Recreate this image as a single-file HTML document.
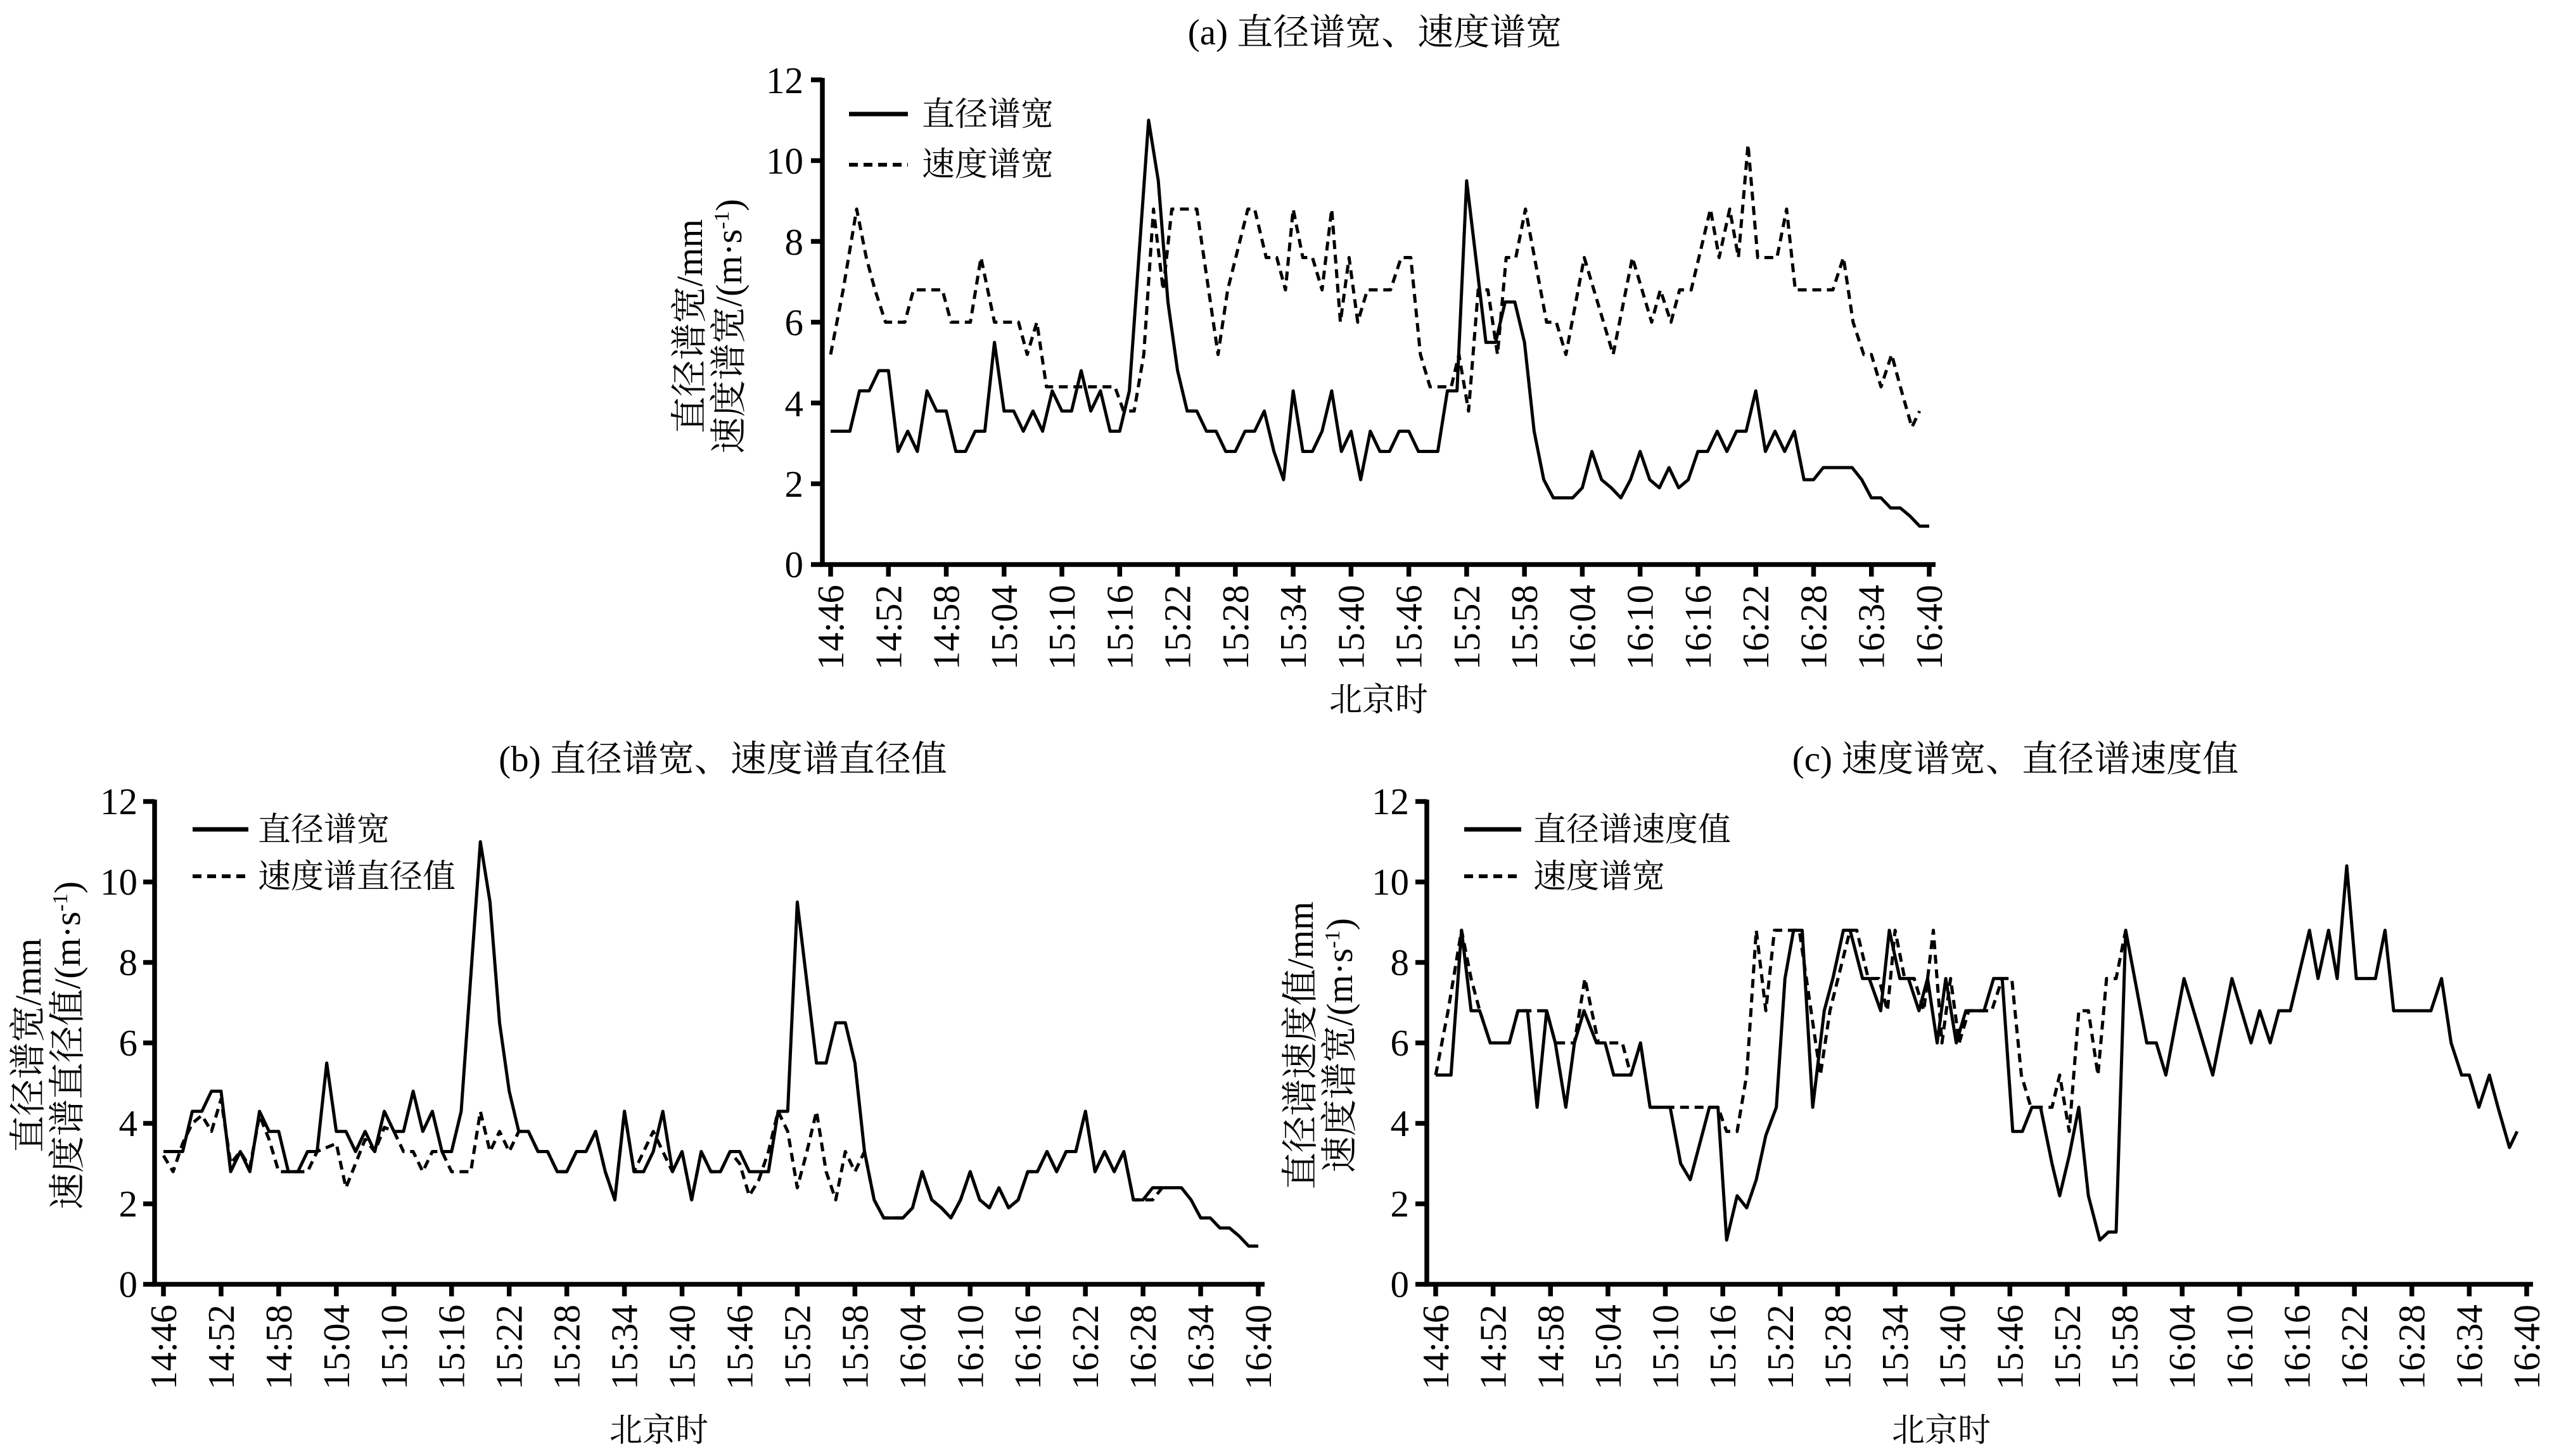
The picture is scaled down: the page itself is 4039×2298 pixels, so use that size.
<!DOCTYPE html>
<html><head><meta charset="utf-8"><style>
html,body{margin:0;padding:0;background:#fff;}
svg{display:block;font-family:"Liberation Serif","Noto Serif CJK SC",serif;}
</style></head><body>
<svg id="s" width="4039" height="2298" viewBox="0 0 4039 2298" xmlns="http://www.w3.org/2000/svg">
<rect width="4039" height="2298" fill="#fff"/>
<g id="axes" stroke="#000" fill="none" stroke-width="7.5"></g>
<g id="lines" fill="none" stroke="#000" stroke-linejoin="round"></g>
<g font-size="52" fill="#000">
<text x="2170" y="70" text-anchor="middle" font-size="57">(a) 直径谱宽、速度谱宽</text>
<text x="1141" y="1217" text-anchor="middle" font-size="57">(b) 直径谱宽、速度谱直径值</text>
<text x="3181" y="1217" text-anchor="middle" font-size="57">(c) 速度谱宽、直径谱速度值</text>
<text x="2176" y="1122" text-anchor="middle">北京时</text>
<text x="1040" y="2275" text-anchor="middle">北京时</text>
<text x="3064" y="2275" text-anchor="middle">北京时</text>
<text x="1455" y="198">直径谱宽</text>
<text x="1455" y="277">速度谱宽</text>
<text x="407" y="1327">直径谱宽</text>
<text x="407" y="1401">速度谱直径值</text>
<text x="2420" y="1327">直径谱速度值</text>
<text x="2420" y="1401">速度谱宽</text>
</g>
<g font-size="58" fill="#000">
<text transform="translate(1108,515) rotate(-90)" text-anchor="middle">直径谱宽/mm</text>
<text transform="translate(1170,515) rotate(-90)" text-anchor="middle">速度谱宽/(m·s<tspan font-size="34" dy="-20">-1</tspan><tspan dy="20">)</tspan></text>
<text transform="translate(64,1650) rotate(-90)" text-anchor="middle">直径谱宽/mm</text>
<text transform="translate(126,1650) rotate(-90)" text-anchor="middle">速度谱直径值/(m·s<tspan font-size="34" dy="-20">-1</tspan><tspan dy="20">)</tspan></text>
<text transform="translate(2072,1650) rotate(-90)" text-anchor="middle">直径谱速度值/mm</text>
<text transform="translate(2134,1650) rotate(-90)" text-anchor="middle">速度谱宽/(m·s<tspan font-size="34" dy="-20">-1</tspan><tspan dy="20">)</tspan></text>
</g>
<g font-size="59" fill="#000" text-anchor="end" id="ylab">
<text x="1268" y="911">0</text><text x="1268" y="784">2</text><text x="1268" y="657">4</text><text x="1268" y="529">6</text><text x="1268" y="402">8</text><text x="1268" y="274">10</text><text x="1268" y="147">12</text>
<text x="217" y="2047">0</text><text x="217" y="1920">2</text><text x="217" y="1793">4</text><text x="217" y="1666">6</text><text x="217" y="1539">8</text><text x="217" y="1412">10</text><text x="217" y="1285">12</text>
<text x="2224" y="2047">0</text><text x="2224" y="1920">2</text><text x="2224" y="1793">4</text><text x="2224" y="1666">6</text><text x="2224" y="1539">8</text><text x="2224" y="1412">10</text><text x="2224" y="1285">12</text>
</g>
<g font-size="59" fill="#000" text-anchor="end" id="xlab"></g>
</svg>
<script>
var NS="http://www.w3.org/2000/svg";
var labels=["14:46","14:52","14:58","15:04","15:10","15:16","15:22","15:28","15:34","15:40","15:46","15:52","15:58","16:04","16:10","16:16","16:22","16:28","16:34","16:40"];
var charts=[
 {ax:1298,x0:1311,x1:3045,y0:891,y12:126,xe:3055},
 {ax:244,x0:258,x1:1986,y0:2027,y12:1265,xe:1996},
 {ax:2252,x0:2266,x1:3988,y0:2027,y12:1265,xe:3998}
];
var D=[[0,3.3],[2,3.3],[3,4.3],[4,4.3],[5,4.8],[6,4.8],[7,2.8],[8,3.3],[9,2.8],[10,4.3],[11,3.8],[12,3.8],[13,2.8],[14,2.8],[15,3.3],[16,3.3],[17,5.5],[18,3.8],[19,3.8],[20,3.3],[21,3.8],[22,3.3],[23,4.3],[24,3.8],[25,3.8],[26,4.8],[27,3.8],[28,4.3],[29,3.3],[30,3.3],[31,4.3],[33,11],[34,9.5],[35,6.5],[36,4.8],[37,3.8],[38,3.8],[39,3.3],[40,3.3],[41,2.8],[42,2.8],[43,3.3],[44,3.3],[45,3.8],[46,2.8],[47,2.1],[48,4.3],[49,2.8],[50,2.8],[51,3.3],[52,4.3],[53,2.8],[54,3.3],[55,2.1],[56,3.3],[57,2.8],[58,2.8],[59,3.3],[60,3.3],[61,2.8],[62,2.8],[63,2.8],[64,4.3],[65,4.3],[66,9.5],[67,7.5],[68,5.5],[69,5.5],[70,6.5],[71,6.5],[72,5.5],[73,3.3],[74,2.1],[75,1.65],[77,1.65],[78,1.9],[79,2.8],[80,2.1],[81,1.9],[82,1.65],[83,2.1],[84,2.8],[85,2.1],[86,1.9],[87,2.4],[88,1.9],[89,2.1],[90,2.8],[91,2.8],[92,3.3],[93,2.8],[94,3.3],[95,3.3],[96,4.3],[97,2.8],[98,3.3],[99,2.8],[100,3.3],[101,2.1],[102,2.1],[103,2.4],[106,2.4],[107,2.1],[108,1.65],[109,1.65],[110,1.4],[111,1.4],[112,1.2],[113,0.95],[114,0.95]];
var V=[[0,5.2],[1.3,6.8],[2.7,8.8],[3.7,7.6],[4.6,6.8],[5.7,6.0],[7.7,6.0],[8.6,6.8],[11.6,6.8],[12.5,6.0],[14.5,6.0],[15.6,7.6],[17,6.0],[19.5,6.0],[20.4,5.2],[21.4,6.0],[22.4,4.4],[29.5,4.4],[30.4,3.8],[31.5,3.8],[32.5,5.2],[33.5,8.8],[34.5,6.8],[35.4,8.8],[38,8.8],[40.2,5.2],[41.2,6.8],[43.3,8.8],[44,8.8],[45.2,7.6],[46.3,7.6],[47.2,6.8],[48,8.8],[49,7.6],[50,7.6],[51,6.8],[52,8.8],[52.9,6.0],[53.8,7.6],[54.7,6.0],[55.7,6.8],[58.1,6.8],[59.2,7.6],[60.2,7.6],[61.2,5.2],[62.2,4.4],[64.4,4.4],[65.2,5.2],[66.2,3.8],[67.2,6.8],[68.2,6.8],[69.2,5.2],[70.1,7.6],[71.1,7.6],[72.1,8.8],[74.3,6.0],[75.3,6.0],[76.3,5.2],[78.2,7.6],[81.2,5.2],[83.2,7.6],[85.2,6.0],[86.1,6.8],[87.2,6.0],[88.1,6.8],[89.3,6.8],[91.3,8.8],[92.2,7.6],[93.3,8.8],[94.2,7.6],[95.2,10.4],[96.2,7.6],[98.2,7.6],[99.2,8.8],[100.1,6.8],[104,6.8],[105.1,7.6],[106.1,6.0],[107.2,5.2],[108,5.2],[109,4.4],[110.1,5.2],[111,4.4],[112.2,3.4],[113,3.8]];
var C=[[0,5.2],[1.6,5.2],[2.7,8.8],[3.7,6.8],[4.6,6.8],[5.7,6.0],[7.7,6.0],[8.6,6.8],[9.6,6.8],[10.6,4.4],[11.6,6.8],[12.5,6.0],[13.6,4.4],[14.5,6.0],[15.5,6.8],[16.8,6.0],[17.7,6.0],[18.6,5.2],[20.4,5.2],[21.4,6.0],[22.4,4.4],[24.5,4.4],[25.6,3.0],[26.6,2.6],[28.6,4.4],[29.5,4.4],[30.4,1.1],[31.5,2.2],[32.5,1.9],[33.5,2.6],[34.5,3.7],[35.6,4.4],[36.5,7.6],[37.4,8.8],[38.3,8.8],[39.4,4.4],[40.6,6.8],[41.5,7.6],[42.6,8.8],[43.3,8.8],[44.6,7.6],[45.3,7.6],[46.5,6.8],[47.4,8.8],[48.5,7.6],[49.4,7.6],[50.5,6.8],[51.4,7.6],[52.4,6.0],[53.3,7.6],[54.4,6.0],[55.4,6.8],[57.3,6.8],[58.3,7.6],[59.2,7.6],[60.3,3.8],[61.3,3.8],[62.3,4.4],[63.2,4.4],[64.4,3.0],[65.2,2.2],[66.2,3.2],[67.2,4.4],[68.2,2.2],[69.4,1.1],[70.3,1.3],[71.1,1.3],[72.1,8.8]].concat(V.filter(function(p){return p[0]>=74;}));
var B=[[0,3.2],[1,2.8],[2,3.5],[3,4.0],[4,4.2],[5,3.8],[6,4.6],[7,3.0],[8,3.3],[9,2.9],[10,4.2],[11,3.6],[12,2.8],[15,2.8],[16,3.3],[17,3.4],[18,3.5],[19,2.4],[20,3.0],[21,3.6],[22,3.3],[23,3.9],[24,3.8],[25,3.3],[26,3.3],[27,2.8],[28,3.3],[29,3.3],[30,2.8],[32,2.8],[33,4.3],[34,3.3],[35,3.8],[36,3.3],[37,3.8],[38,3.8],[39,3.3],[40,3.3],[41,2.8],[42,2.8],[43,3.3],[44,3.3],[45,3.8],[46,2.8],[47,2.1],[48,4.3],[49,2.8],[50,3.3],[51,3.8],[52,3.3],[53,2.8],[54,3.3],[55,2.1],[56,3.3],[57,2.8],[58,2.8],[59,3.3],[60,3.0],[61,2.2],[62,2.6],[63,3.3],[64,4.3],[65,3.8],[66,2.4],[67,3.3],[68,4.3],[69,2.8],[70,2.1],[71,3.3],[72,2.8],[73,3.3]].concat(D.filter(function(p){return p[0]>=74&&p[0]<=102;})).concat([[103,2.1],[104,2.4]]);
function el(t,a,p){var e=document.createElementNS(NS,t);for(var k in a)e.setAttribute(k,a[k]);p.appendChild(e);return e;}
var axes=document.getElementById("axes"),lines=document.getElementById("lines"),xl=document.getElementById("xlab");
function pts(c,data){var s=(c.x1-c.x0)/114,u=(c.y0-c.y12)/12;return data.map(function(p){return (c.x0+p[0]*s).toFixed(1)+","+(c.y0-p[1]*u).toFixed(1);}).join(" ");}
charts.forEach(function(c){
 el("path",{d:"M"+c.ax+","+(c.y12-3)+"V"+c.y0+"H"+c.xe},axes);
 var u=(c.y0-c.y12)/12;
 for(var i=0;i<=6;i++){var y=c.y0-2*i*u;el("path",{d:"M"+(c.ax-18)+","+y+"H"+c.ax},axes);}
 var s=(c.x1-c.x0)/19;
 for(var j=0;j<20;j++){var x=c.x0+j*s;el("path",{d:"M"+x+","+c.y0+"V"+(c.y0+19)},axes);
  var t=el("text",{transform:"translate("+(x+20)+","+(c.y0+32)+") rotate(-90)"},xl);t.textContent=labels[j];}
});
function line(c,data,dash){var a={points:pts(c,data),"stroke-width":5};if(dash)a["stroke-dasharray"]="14,9";el("polyline",a,lines);}
line(charts[0],V,true);line(charts[0],D,false);
line(charts[1],B,true);line(charts[1],D,false);
line(charts[2],V.filter(function(p){return p[0]<=74;}),true);line(charts[2],C,false);
el("path",{d:"M1340,180H1433","stroke-width":7},lines);
el("path",{d:"M1340,260H1433","stroke-width":6,"stroke-dasharray":"14,9"},lines);
el("path",{d:"M304,1309H392","stroke-width":7},lines);
el("path",{d:"M304,1383H392","stroke-width":6,"stroke-dasharray":"14,9"},lines);
el("path",{d:"M2311,1309H2401","stroke-width":7},lines);
el("path",{d:"M2311,1383H2401","stroke-width":6,"stroke-dasharray":"14,9"},lines);
</script>
</body></html>
